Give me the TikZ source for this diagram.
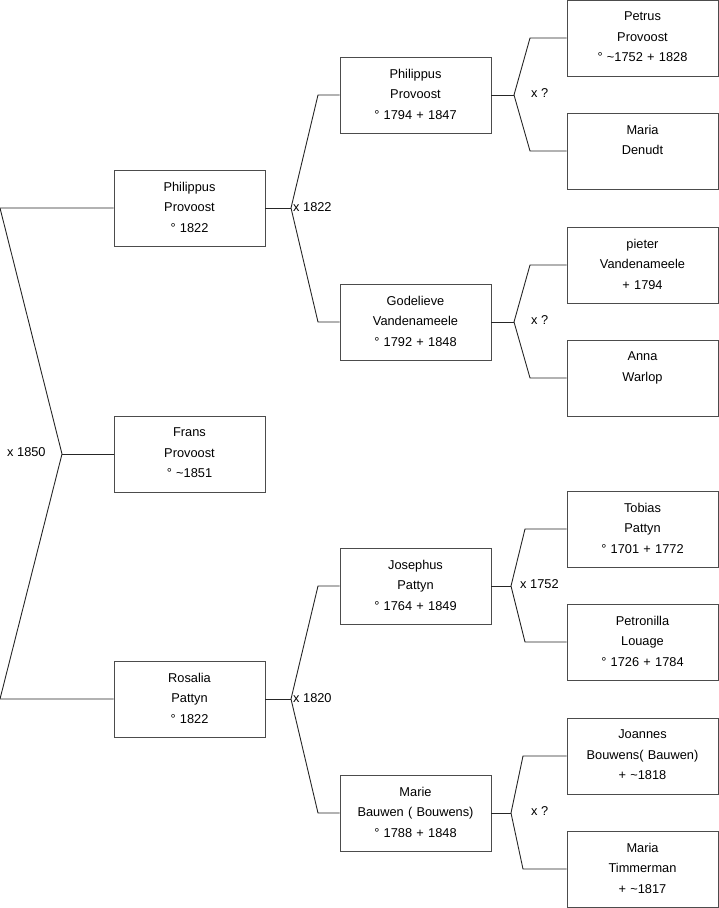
\documentclass[tikz,border=0pt]{standalone}
\usepackage{fontspec}
\setmainfont{Liberation Sans}
\usetikzlibrary{positioning}

\tikzset{
    person/.style={draw=black!70, line width=0.9pt, minimum width=151pt, minimum height=76pt,
        text width=149pt, align=center, inner sep=0pt,
        execute at end node={\par\vspace*{2pt}},
        font=\fontsize{12.8}{20.5}\selectfont},
    branch/.style={draw=black!85, line width=0.9pt},
    wedding/.style={font=\fontsize{12.8}{14}\selectfont, inner sep=0pt}
}

\begin{document}
\begin{tikzpicture}[x=1pt, y=-1pt]
    \useasboundingbox (0,0) rectangle (719,908);

    % generation 1
    \node[person] (philippus) at (189.5,208) {Philippus\\Provoost\\° 1822};
    \node[person] (frans) at (189.5,454) {Frans\\Provoost\\° \textasciitilde1851};
    \node[person] (rosalia) at (189.5,699) {Rosalia\\Pattyn\\° 1822};

    % generation 2
    \node[person] (philippusv) at (415.5,95) {Philippus\\Provoost\\° 1794 + 1847};
    \node[person] (godelieve) at (415.5,322) {Godelieve\\Vandenameele\\° 1792 + 1848};
    \node[person] (josephus) at (415.5,586) {Josephus\\Pattyn\\° 1764 + 1849};
    \node[person] (marie) at (415.5,813) {Marie\\Bauwen ( Bouwens)\\° 1788 + 1848};

    % generation 3
    \node[person] (petrus) at (642.5,38) {Petrus\\Provoost\\° \textasciitilde1752 + 1828};
    \node[person] (mariad) at (642.5,151) {Maria\\Denudt\\\mbox{}};
    \node[person] (pieter) at (642.5,265) {pieter\\Vandenameele\\+ 1794};
    \node[person] (anna) at (642.5,378) {Anna\\Warlop\\\mbox{}};
    \node[person] (tobias) at (642.5,529) {Tobias\\Pattyn\\° 1701 + 1772};
    \node[person] (petronilla) at (642.5,642) {Petronilla\\Louage\\° 1726 + 1784};
    \node[person] (joannes) at (642.5,756) {Joannes\\Bouwens( Bauwen)\\+ \textasciitilde1818};
    \node[person] (mariat) at (642.5,869) {Maria\\Timmerman\\+ \textasciitilde1817};

    % forks
    \coordinate (top0) at (0,208);
    \coordinate (bot0) at (0,699);
    \coordinate (fork0) at (62,454);

    \coordinate (fork1) at (291,208);
    \coordinate (top1) at (318,95);
    \coordinate (bot1) at (318,322);
    \coordinate (fork2) at (291,699);
    \coordinate (top2) at (318,586);
    \coordinate (bot2) at (318,813);

    \coordinate (fork3) at (514,95);
    \coordinate (top3) at (530,38);
    \coordinate (bot3) at (530,151);
    \coordinate (fork4) at (514,322);
    \coordinate (top4) at (530,265);
    \coordinate (bot4) at (530,378);
    \coordinate (fork5) at (511,586);
    \coordinate (top5) at (525,529);
    \coordinate (bot5) at (525,642);
    \coordinate (fork6) at (511,813);
    \coordinate (top6) at (523,756);
    \coordinate (bot6) at (523,869);

    \draw[branch] (philippus.west) -- (top0) -- (fork0) -- (bot0) -- (rosalia.west);
    \draw[branch] (fork0) -- (frans.west);

    \draw[branch] (philippus.east) -- (fork1);
    \draw[branch] (philippusv.west) -- (top1) -- (fork1) -- (bot1) -- (godelieve.west);
    \draw[branch] (rosalia.east) -- (fork2);
    \draw[branch] (josephus.west) -- (top2) -- (fork2) -- (bot2) -- (marie.west);

    \draw[branch] (philippusv.east) -- (fork3);
    \draw[branch] (petrus.west) -- (top3) -- (fork3) -- (bot3) -- (mariad.west);
    \draw[branch] (godelieve.east) -- (fork4);
    \draw[branch] (pieter.west) -- (top4) -- (fork4) -- (bot4) -- (anna.west);
    \draw[branch] (josephus.east) -- (fork5);
    \draw[branch] (tobias.west) -- (top5) -- (fork5) -- (bot5) -- (petronilla.west);
    \draw[branch] (marie.east) -- (fork6);
    \draw[branch] (joannes.west) -- (top6) -- (fork6) -- (bot6) -- (mariat.west);

    % marriages
    \node[wedding, anchor=west] (x0) at (7,452) {x 1850};
    \node[wedding, anchor=west] (x1) at (293,207) {x 1822};
    \node[wedding, anchor=west] (x2) at (293,698) {x 1820};
    \node[wedding, anchor=west] (x3) at (531,93) {x ?};
    \node[wedding, anchor=west] (x4) at (531,320) {x ?};
    \node[wedding, anchor=west] (x5) at (520,584) {x 1752};
    \node[wedding, anchor=west] (x6) at (531,811) {x ?};
\end{tikzpicture}
\end{document}
